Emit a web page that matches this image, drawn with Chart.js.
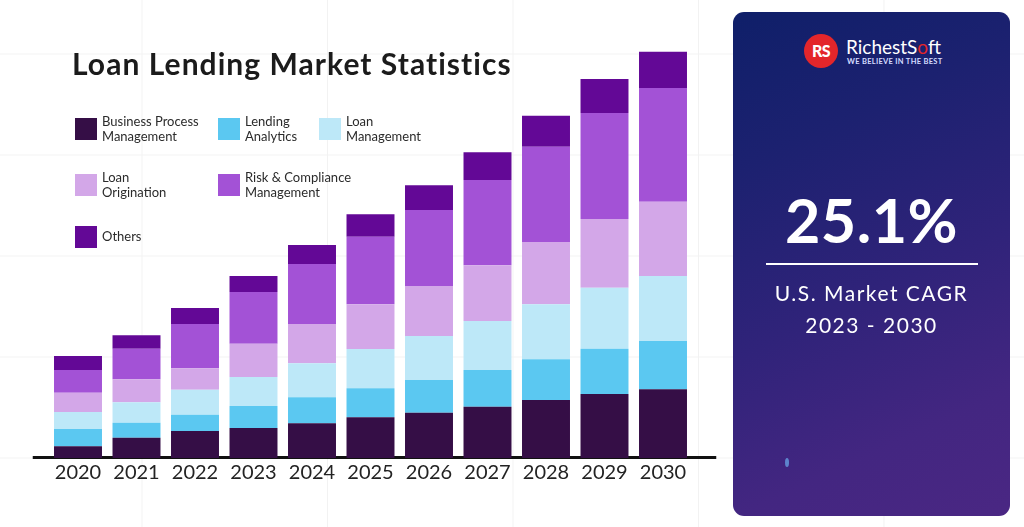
<!DOCTYPE html>
<html><head><meta charset="utf-8">
<script src="https://cdn.jsdelivr.net/npm/chart.js@4.4.1/dist/chart.umd.min.js"></script>
<style>
html,body{margin:0;padding:0;width:1024px;height:527px;overflow:hidden;background:#fff;font-family:Lato,sans-serif;}
#page{position:relative;width:1024px;height:527px;
background-image:linear-gradient(to right,#f2f2f2 1px,transparent 1px),linear-gradient(to bottom,#f2f2f2 1px,transparent 1px);
background-size:185.5px 101px;background-position:141.5px 53.5px;}
#chartBox{position:absolute;left:0;top:0;width:1024px;height:527px;}
#title{position:absolute;left:72px;top:48px;font:700 30px/30px Lato;color:#1b1b1b;white-space:nowrap;letter-spacing:1.05px;}
#legend{position:absolute;left:75px;top:118px;display:grid;grid-template-columns:143px 101px auto;grid-template-rows:55.6px 52.4px 22px;}
.item{display:flex;align-items:center;height:22px;}
.box{width:22px;height:22px;flex:none;margin-right:5px;}
.lbl{font:400 13px/15px Lato;color:#2b2b2b;white-space:pre;}
#panel{position:absolute;left:733px;top:12px;width:277px;height:504px;border-radius:11px;overflow:hidden;
background:linear-gradient(155deg,#0f1f69 0%,#1c2170 25%,#30237a 55%,#432681 80%,#4a2783 100%);color:#fff;}
#logoCircle{position:absolute;left:71px;top:22px;width:34px;height:34px;border-radius:50%;background:#e3262b;color:#fff;font:900 16px/34px Lato;text-align:center;letter-spacing:-0.5px;}
#brand{position:absolute;left:113px;top:24.5px;font:400 19px/19px Lato;color:#fff;white-space:nowrap;}
#brand span{color:#e3262b;}
#tag{position:absolute;left:114px;top:45.5px;font:700 7.5px/7.5px Lato;color:#d4dcff;white-space:nowrap;letter-spacing:0.3px;}
#big{position:absolute;left:0;width:277px;top:177px;text-align:center;font:700 61px/61px Lato;color:#fff;letter-spacing:0.5px;}
#rule{position:absolute;left:33px;width:212px;top:251px;height:2px;background:#fff;}
#sub{position:absolute;left:0;width:277px;top:265px;text-align:center;font:400 21px/31.6px Lato;color:#fff;letter-spacing:1.5px;}
#dot{position:absolute;left:52px;top:446px;width:4px;height:9px;border-radius:50%;background:#5d84cc;filter:blur(0.6px);}
</style></head>
<body><div id="page">
<div id="chartBox"><canvas id="c" width="1024" height="527"></canvas></div>
<div id="title">Loan Lending Market Statistics</div>
<div id="legend"></div>
<div id="panel">
  <div id="logoCircle">RS</div>
  <div id="brand">RichestS<span>o</span>ft</div>
  <div id="tag">WE BELIEVE IN THE BEST</div>
  <div id="big">25.1%</div>
  <div id="rule"></div>
  <div id="sub">U.S. Market CAGR<br>2023 - 2030</div>
  <div id="dot"></div>
</div>
</div>
<script>
const years = ['2020','2021','2022','2023','2024','2025','2026','2027','2028','2029','2030'];
const seriesNames = ['Business Process\nManagement','Lending\nAnalytics','Loan\nManagement','Loan\nOrigination','Risk & Compliance\nManagement','Others'];
const seriesColors = ['#350e46','#5bc8f1','#bde8f8','#d3a7e8','#a352d6','#630896'];
const businessProcess = [11.7, 20.3, 27, 30, 34.7, 40.7, 45.3, 51.3, 58, 64, 68.7];
const lendingAnalytics = [17.3, 15, 16.3, 22, 26, 29, 32.7, 36.7, 40.7, 45.3, 48.3];
const loanManagement = [17, 20.4, 25, 29, 34, 39.3, 44, 49, 55, 61, 65];
const loanOrigination = [19.3, 23, 21.4, 33.3, 39.3, 44.7, 50, 55.7, 62.3, 68.7, 74.3];
const riskCompliance = [22.7, 30.6, 44.3, 51.7, 60, 67.6, 76, 85.3, 95.3, 106, 113.7];
const others = [14, 13.4, 16, 16, 19, 22.4, 24.7, 27.7, 31, 34, 36.3];
const seriesValues = [businessProcess, lendingAnalytics, loanManagement, loanOrigination, riskCompliance, others];

// HTML legend from the arrays
const leg = document.getElementById('legend');
const order = [0,1,2,3,4,null,5];
order.forEach(i => {
  const it = document.createElement('div');
  if (i !== null) {
    it.className = 'item';
    const b = document.createElement('div'); b.className='box'; b.style.background = seriesColors[i];
    const l = document.createElement('div'); l.className='lbl'; l.textContent = seriesNames[i];
    it.appendChild(b); it.appendChild(l);
  }
  leg.appendChild(it);
});

const axisLine = {
  id:'axisLine',
  beforeDatasetsDraw(chart){
    const {ctx, chartArea:a, scales:{y}} = chart;
    const py = y.getPixelForValue(0);
    ctx.save(); ctx.fillStyle = '#111';
    ctx.fillRect(a.left - 16, py - 2, (a.right - a.left) + 40, 3);
    ctx.restore();
  }
};

const TARGET_BOTTOM = 458;
const chart = new Chart(document.getElementById('c'), {
  type:'bar',
  data:{
    labels: years,
    datasets: seriesValues.map((v,i)=>({label: seriesNames[i].replace('\n',' '), data: v, backgroundColor: seriesColors[i], borderWidth:0, categoryPercentage:1, barPercentage:0.82}))
  },
  options:{
    responsive:false, animation:false, devicePixelRatio:1,
    layout:{padding:{left:48.75, right:331.75, top:0, bottom:40}},
    plugins:{legend:{display:false}, tooltip:{enabled:false}, title:{display:false}},
    scales:{
      x:{stacked:true, grid:{display:false, drawTicks:false}, border:{display:false},
         ticks:{color:'#232323', font:{family:'Lato', size:20}, padding:3}},
      y:{stacked:true, display:false, min:0, max:TARGET_BOTTOM}
    }
  },
  plugins:[axisLine]
});
// fine-tune layout so the baseline sits where the reference has it
const diff = chart.chartArea.bottom - TARGET_BOTTOM;
if (Math.abs(diff) > 0.2) {
  chart.options.layout.padding.bottom += diff;
  chart.update('none');
}
chart.options.scales.y.max = chart.chartArea.bottom - chart.chartArea.top;
chart.update('none');
</script>
</body></html>
